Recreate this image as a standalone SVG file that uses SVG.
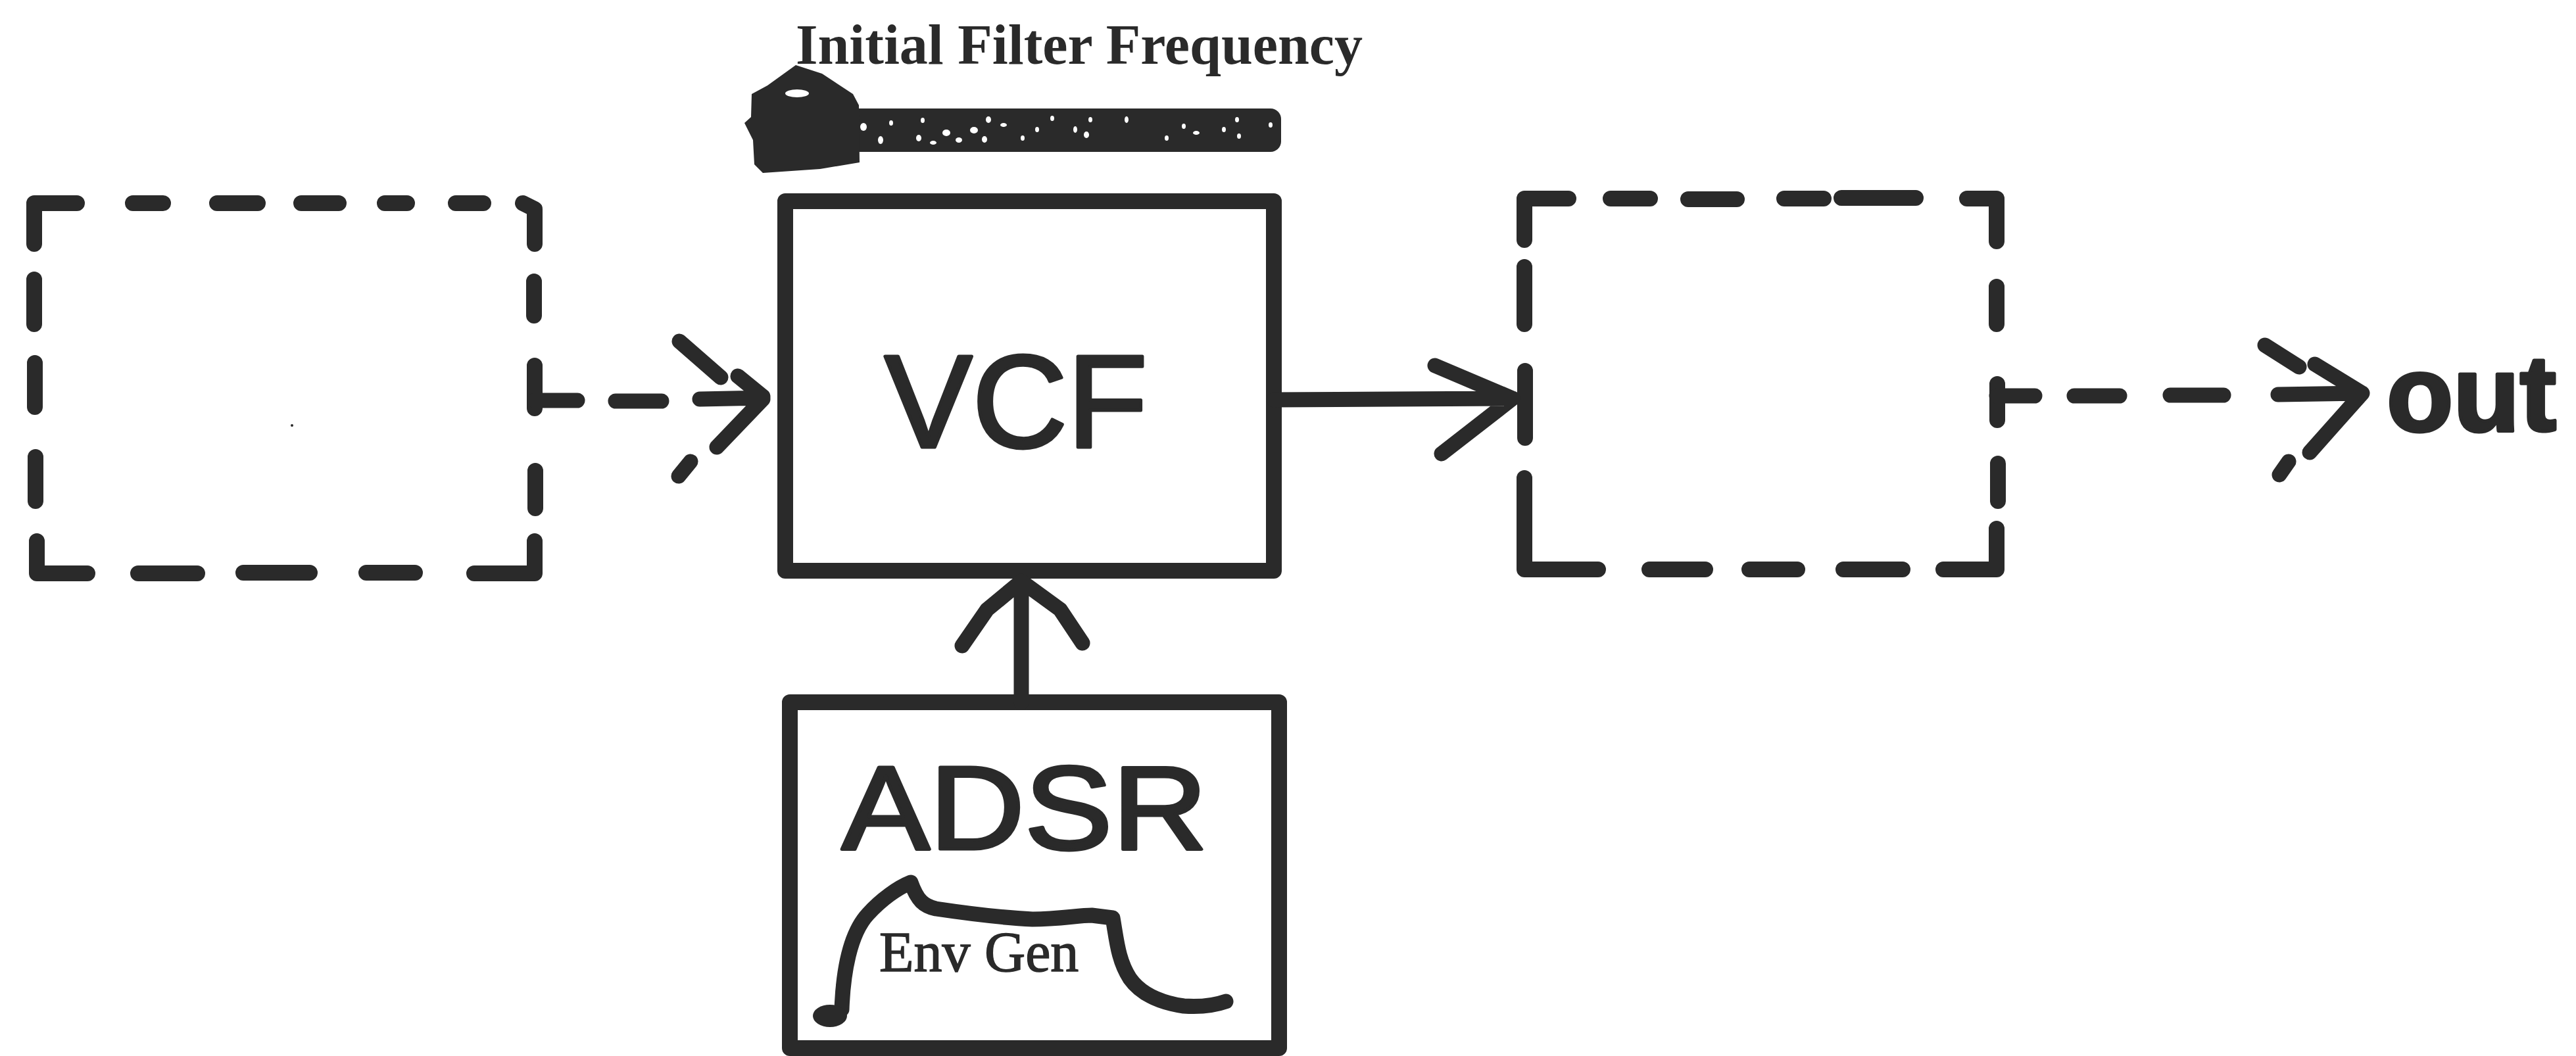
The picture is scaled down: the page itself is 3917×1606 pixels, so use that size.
<svg xmlns="http://www.w3.org/2000/svg" width="3917" height="1606" viewBox="0 0 3917 1606">
<style>
.ink{fill:none;stroke:#2a2a2a;stroke-width:24;stroke-linecap:round;stroke-linejoin:round}
.arr{fill:none;stroke:#2a2a2a;stroke-width:23;stroke-linecap:round;stroke-linejoin:round}
.env{fill:none;stroke:#2a2a2a;stroke-width:23;stroke-linecap:round;stroke-linejoin:round}
.hand{font-family:"Liberation Sans",Arial,sans-serif;fill:#2a2a2a;stroke:#2a2a2a;stroke-width:5;stroke-linejoin:round;text-anchor:middle}
.serif{font-family:"Liberation Serif","Times New Roman",serif;fill:#2a2a2a}
.fill{fill:#2a2a2a}
.spk{fill:#ffffff}
</style>
<rect width="3917" height="1606" fill="#ffffff"/>

<g id="slider">
  <text class="serif" x="1210" y="97" font-size="86" font-weight="bold" textLength="862" lengthAdjust="spacingAndGlyphs">Initial Filter Frequency</text>
  <rect class="fill" x="1290" y="165" width="658" height="66" rx="16"/>
  <path class="fill" d="M1132,187 L1142,178 L1143,143 L1167,130 L1210,99 L1250,112 L1297,143 L1306,160 L1307,247 L1247,257 L1160,263 L1147,250 L1145,213 Z"/>
  <ellipse class="spk" cx="1212" cy="142" rx="18" ry="6"/>
  <g class="spk">
    <ellipse cx="1313" cy="193" rx="5" ry="6"/><ellipse cx="1339" cy="213" rx="4" ry="6"/>
    <ellipse cx="1355" cy="187" rx="3" ry="4"/><ellipse cx="1397" cy="210" rx="4" ry="5"/>
    <ellipse cx="1403" cy="183" rx="3" ry="4"/><ellipse cx="1419" cy="217" rx="5" ry="3"/>
    <ellipse cx="1439" cy="202" rx="6" ry="5"/><ellipse cx="1458" cy="213" rx="5" ry="4"/>
    <ellipse cx="1481" cy="198" rx="6" ry="5"/><ellipse cx="1497" cy="212" rx="4" ry="5"/>
    <ellipse cx="1503" cy="182" rx="4" ry="5"/><ellipse cx="1526" cy="190" rx="5" ry="3"/>
    <ellipse cx="1555" cy="210" rx="3" ry="4"/><ellipse cx="1577" cy="197" rx="3" ry="4"/>
    <ellipse cx="1600" cy="180" rx="3" ry="4"/><ellipse cx="1635" cy="197" rx="3" ry="5"/>
    <ellipse cx="1652" cy="205" rx="4" ry="5"/><ellipse cx="1658" cy="182" rx="3" ry="4"/>
    <ellipse cx="1713" cy="182" rx="3" ry="5"/><ellipse cx="1774" cy="210" rx="3" ry="4"/>
    <ellipse cx="1800" cy="192" rx="3" ry="4"/><ellipse cx="1819" cy="202" rx="5" ry="3"/>
    <ellipse cx="1861" cy="197" rx="3" ry="4"/><ellipse cx="1884" cy="207" rx="3" ry="4"/>
    <ellipse cx="1881" cy="182" rx="3" ry="4"/><ellipse cx="1932" cy="190" rx="3" ry="4"/>
  </g>
</g>

<g id="left-box">
  <path class="ink" d="M52,371 L52,309 L117,309 M202,309 H248 M330,309 H392 M458,309 H515 M585,309 H619 M693,309 H735 M795,309 L813,318 L813,371"/>
  <path class="ink" d="M52,425 V493 M53,552 V619 M54,695 V762"/>
  <path class="ink" d="M56,823 L56,872 L133,872 M210,872 H300 M370,871 H471 M557,871 H631 M721,872 L813,872 L813,823"/>
  <path class="ink" d="M812,428 V480 M813,556 V621 M814,716 V773"/>
  <circle class="fill" cx="444" cy="647" r="2"/>
</g>

<g id="vcf">
  <rect class="ink" x="1194" y="306" width="743" height="562"/>
  <text class="hand" x="1545" y="680" font-size="200">VCF</text>
</g>

<g id="right-box">
  <path class="ink" d="M2318,365 L2318,302 L2385,302 M2449,302 H2509 M2567,303 H2641 M2713,302 H2773 M2800,301 H2913 M2991,302 L3036,302 L3036,367"/>
  <path class="ink" d="M2318,406 V493 M2319,564 V666 M2318,727 L2318,866 L2430,866"/>
  <path class="ink" d="M2508,866 H2593 M2660,866 H2733 M2803,866 H2893 M2955,866 L3036,866 L3036,804"/>
  <path class="ink" d="M3036,436 V493 M3037,584 V639 M3038,705 V762"/>
</g>

<g id="adsr">
  <rect class="ink" x="1201" y="1068" width="744" height="526"/>
  <text class="hand" x="1558" y="1291" font-size="180" textLength="556" lengthAdjust="spacingAndGlyphs">ADSR</text>
  <path class="env" d="M1280,1535 C1282,1480 1292,1420 1320,1390 C1340,1368 1365,1350 1385,1342 C1395,1370 1405,1378 1423,1382 C1470,1389 1530,1396 1570,1398 C1610,1398 1640,1392 1660,1392 L1692,1396 C1698,1430 1700,1460 1718,1488 C1735,1512 1765,1525 1800,1530 C1830,1532 1850,1528 1864,1523"/>
  <ellipse class="fill" cx="1262" cy="1545" rx="26" ry="17"/>
  <text class="serif" x="1337" y="1477" font-size="86" stroke="#2a2a2a" stroke-width="1.5">Env Gen</text>
</g>

<text id="out-label" class="hand" x="3758" y="655" font-size="163" font-weight="bold" stroke-width="2" textLength="258" lengthAdjust="spacingAndGlyphs">out</text>

<g id="connectors">
  <path class="arr" d="M813,609 H878 M936,610 H1006 M1064,607 L1160,605 M1033,519 L1096,574 M1122,572 L1160,603 M1160,607 L1090,680 M1050,702 L1032,724"/>
  <path class="arr" d="M1937,608 L2300,606 M2182,556 L2300,606 L2192,690"/>
  <path class="arr" d="M1553,1068 L1553,888 M1463,982 L1501,927 L1553,884 L1612,927 L1646,978"/>
  <path class="arr" d="M3036,602 H3094 M3154,602 H3223 M3300,601 H3381 M3464,600 L3592,598 M3444,525 L3496,558 M3520,554 L3592,598 M3592,598 L3512,688 M3480,702 L3466,722"/>
</g>
</svg>
